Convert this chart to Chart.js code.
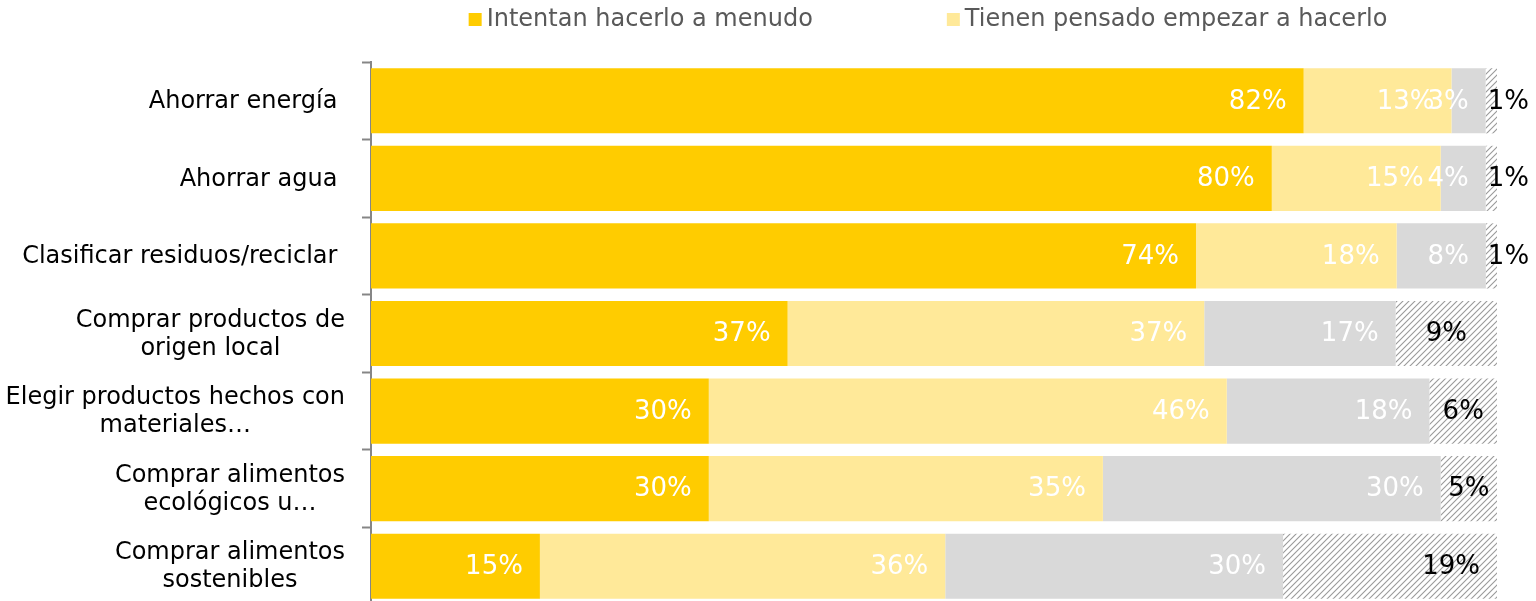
<!DOCTYPE html>
<html>
<head>
<meta charset="utf-8">
<script src="https://cdn.jsdelivr.net/npm/chart.js@4.4.1/dist/chart.umd.min.js"></script>
<style>
  body { margin: 0; background: #fff; }
  #clip { width: 1536px; height: 601px; overflow: hidden; }
  #wrap { width: 1536px; height: 605px; position: relative; }
</style>
</head>
<body>
<div id="clip"><div id="wrap"><canvas id="acciones"></canvas></div></div>
<script>
// categories (multi-line labels as arrays)
var categories = [
  'Ahorrar energía ',
  'Ahorrar agua ',
  'Clasificar residuos/reciclar ',
  ['Comprar productos de', 'origen local'],
  ['Elegir productos hechos con', 'materiales…'],
  ['Comprar alimentos', 'ecológicos u…'],
  ['Comprar alimentos', 'sostenibles']
];

// percentages as printed on the bars
var often    = [82, 80, 74, 37, 30, 30, 15];
var planning = [13, 15, 18, 37, 46, 35, 36];
var other    = [3, 4, 8, 17, 18, 30, 30];
var rest     = [1, 1, 1, 9, 6, 5, 19];

var legendNames = ['Intentan hacerlo a menudo', 'Tienen pensado empezar a hacerlo'];

var series = [often, planning, other, rest];

// 100% stacked: every row scaled to its own total
var totals = categories.map(function (c, i) {
  return series.reduce(function (s, arr) { return s + arr[i]; }, 0);
});
function share(arr) {
  return arr.map(function (v, i) { return v / totals[i] * 100; });
}

function hatch() {
  var c = document.createElement('canvas');
  c.width = 6; c.height = 6;
  var g = c.getContext('2d');
  g.fillStyle = '#ffffff';
  g.fillRect(0, 0, 6, 6);
  g.strokeStyle = '#9a9a9a';
  g.lineWidth = 1.1;
  g.beginPath();
  g.moveTo(0, 6); g.lineTo(6, 0);
  g.moveTo(-1, 1); g.lineTo(1, -1);
  g.moveTo(5, 7); g.lineTo(7, 5);
  g.stroke();
  return g.createPattern(c, 'repeat');
}

Chart.defaults.font.family = '"DejaVu Sans", Verdana, sans-serif';

var legendColors = ['#FFCC00', '#FFE999'];

// legend with only the first two series, spread out like the original
var topLegend = {
  id: 'topLegend',
  afterDraw: function (chart) {
    var ctx = chart.ctx;
    ctx.save();
    ctx.font = '24px "DejaVu Sans"';
    var box = 13, gap = 5, between = 134;
    var widths = legendNames.map(function (n) { return box + gap + ctx.measureText(n).width; });
    var total = widths[0] + between + widths[1];
    var mid = (chart.chartArea.left + chart.chartArea.right) / 2 - 6;
    var x = mid - total / 2;
    var y = 20;
    ctx.textBaseline = 'middle';
    ctx.textAlign = 'left';
    legendNames.forEach(function (n, i) {
      ctx.fillStyle = legendColors[i];
      ctx.fillRect(x, y - 7, box, box);
      ctx.fillStyle = '#595959';
      ctx.fillText(n, x + box + gap, y);
      x += widths[i] + between;
    });
    ctx.restore();
  }
};

// category labels: block right-aligned, lines centred inside the block
var categoryLabels = {
  id: 'categoryLabels',
  afterDraw: function (chart) {
    var ctx = chart.ctx;
    var yScale = chart.scales.y;
    var right = chart.chartArea.left - 26;
    ctx.save();
    ctx.font = '24px "DejaVu Sans"';
    ctx.fillStyle = '#000000';
    ctx.textAlign = 'center';
    ctx.textBaseline = 'middle';
    categories.forEach(function (lbl, i) {
      var lines = Array.isArray(lbl) ? lbl : [lbl];
      var w = Math.max.apply(null, lines.map(function (l) { return ctx.measureText(l).width; }));
      var cx = right - w / 2;
      var y = yScale.getPixelForTick(i);
      lines.forEach(function (l, j) {
        ctx.fillText(l, cx, y + 1 + (j - (lines.length - 1) / 2) * 28);
      });
    });
    ctx.restore();
  }
};

var barLabels = {
  id: 'barLabels',
  afterDatasetsDraw: function (chart) {
    var ctx = chart.ctx;
    ctx.save();
    ctx.font = '26px "DejaVu Sans"';
    ctx.textBaseline = 'middle';
    chart.data.datasets.forEach(function (ds, d) {
      var meta = chart.getDatasetMeta(d);
      meta.data.forEach(function (bar, i) {
        var txt = series[d][i] + '%';
        var w = ctx.measureText(txt).width;
        var start = bar.base, end = bar.x;
        var y = bar.y + 1;
        ctx.fillStyle = d === 3 ? '#000000' : '#ffffff';
        if (d < 3 || series[d][i] >= 10) {
          ctx.textAlign = 'right';
          ctx.fillText(txt, end - 17, y);
        } else if (end - start < w) {
          ctx.textAlign = 'left';
          ctx.fillText(txt, start + 2, y);
        } else {
          ctx.textAlign = 'center';
          ctx.fillText(txt, (start + end) / 2, y);
        }
      });
    });
    ctx.restore();
  }
};

var ctx = document.getElementById('acciones').getContext('2d');

var chart = new Chart(ctx, {
  type: 'bar',
  data: {
    labels: categories,
    datasets: [
      { label: legendNames[0], data: share(often), backgroundColor: '#FFCC00' },
      { label: legendNames[1], data: share(planning), backgroundColor: '#FFE999' },
      { label: 'otros', data: share(other), backgroundColor: '#D9D9D9' },
      { label: 'resto', data: share(rest), backgroundColor: hatch() }
    ]
  },
  options: {
    indexAxis: 'y',
    responsive: true,
    maintainAspectRatio: false,
    animation: false,
    layout: { padding: { top: 62, right: 39, bottom: 0, left: 0 } },
    datasets: {
      bar: { barPercentage: 0.84, categoryPercentage: 1, borderWidth: 0 }
    },
    scales: {
      x: { stacked: true, min: 0, max: 100, display: false },
      y: {
        stacked: true,
        afterFit: function (scale) {
          scale.width = 371;
          scale.paddingTop = 0;
          scale.paddingBottom = 0;
        },
        border: { display: true, color: '#868686', width: 2 },
        grid: {
          drawOnChartArea: false,
          drawTicks: true,
          tickLength: 9,
          tickWidth: 2,
          tickColor: '#868686',
          offset: true
        },
        ticks: { display: false }
      }
    },
    plugins: {
      legend: { display: false },
      tooltip: { enabled: false }
    }
  },
  plugins: [topLegend, categoryLabels, barLabels]
});
</script>
</body>
</html>
